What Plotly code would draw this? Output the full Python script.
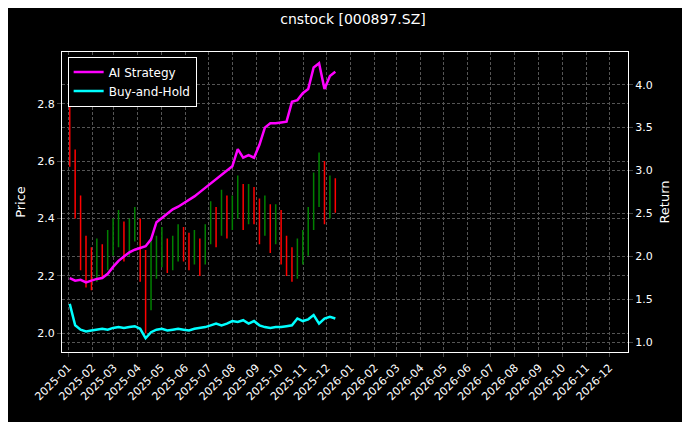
import pandas as pd
import plotly.graph_objects as go

# weekly bars
dates = pd.date_range("2025-01-03", periods=50, freq="7D")
close = [2.62, 2.45, 2.30, 2.22,
         2.20, 2.26, 2.24, 2.30,
         2.33, 2.36, 2.30, 2.34, 2.38,
         2.25, 2.10, 2.22, 2.28,
         2.30, 2.25, 2.28, 2.32, 2.30,
         2.27, 2.30, 2.25, 2.33,
         2.40, 2.35, 2.45, 2.38,
         2.42, 2.50, 2.40, 2.47, 2.45,
         2.38, 2.42, 2.33, 2.40,
         2.30, 2.25, 2.22, 2.28, 2.30,
         2.38, 2.50, 2.58, 2.45,
         2.50, 2.47]
open_ = [2.92] + close[:-1]
high = [2.94, 2.64, 2.48, 2.34,
        2.30, 2.33, 2.31, 2.36,
        2.40, 2.43, 2.39, 2.40, 2.44,
        2.40, 2.29, 2.33, 2.34,
        2.37, 2.33, 2.34, 2.38, 2.37,
        2.35, 2.36, 2.33, 2.38,
        2.46, 2.44, 2.50, 2.48,
        2.48, 2.55, 2.52, 2.52, 2.51,
        2.47, 2.48, 2.45, 2.45,
        2.43, 2.34, 2.30, 2.33, 2.36,
        2.44, 2.56, 2.63, 2.60,
        2.55, 2.54]
low = [2.58, 2.40, 2.22, 2.16,
       2.15, 2.18, 2.19, 2.22,
       2.27, 2.30, 2.25, 2.27, 2.32,
       2.18, 2.00, 2.08, 2.19,
       2.23, 2.21, 2.22, 2.25, 2.25,
       2.22, 2.24, 2.20, 2.24,
       2.31, 2.30, 2.34, 2.33,
       2.36, 2.40, 2.36, 2.38, 2.38,
       2.31, 2.34, 2.28, 2.31,
       2.24, 2.20, 2.18, 2.19, 2.24,
       2.27, 2.36, 2.44, 2.38,
       2.40, 2.42]
strategy = [1.75, 1.72, 1.73, 1.70, 1.72, 1.74, 1.75, 1.80, 1.88, 1.95,
            2.00, 2.05, 2.08, 2.10, 2.12, 2.20, 2.40, 2.45, 2.50, 2.55,
            2.58, 2.62, 2.65, 2.70, 2.75, 2.80, 2.85, 2.90, 2.95, 3.00,
            3.05, 3.25, 3.15, 3.18, 3.15, 3.30, 3.50, 3.55, 3.55, 3.56,
            3.57, 3.80, 3.82, 3.90, 3.95, 4.20, 4.25, 3.95, 4.10, 4.15]
buy_hold = [1.45, 1.20, 1.15, 1.13, 1.14, 1.15, 1.16, 1.15, 1.17, 1.18,
            1.17, 1.18, 1.19, 1.16, 1.05, 1.12, 1.15, 1.16, 1.14, 1.15,
            1.16, 1.15, 1.14, 1.16, 1.17, 1.18, 1.20, 1.22, 1.20, 1.22,
            1.25, 1.24, 1.26, 1.22, 1.25, 1.20, 1.18, 1.17, 1.18, 1.18,
            1.19, 1.20, 1.28, 1.25, 1.27, 1.32, 1.22, 1.28, 1.30, 1.28]

fig = go.Figure()
fig.add_trace(go.Ohlc(x=dates, open=open_, high=high, low=low, close=close,
                      increasing=dict(line=dict(color="green", width=1.5)),
                      decreasing=dict(line=dict(color="red", width=1.5)),
                      tickwidth=0.05, showlegend=False, yaxis="y"))
fig.add_trace(go.Scatter(x=dates, y=strategy, mode="lines", name="AI Strategy",
                         line=dict(color="magenta", width=2.5), yaxis="y2"))
fig.add_trace(go.Scatter(x=dates, y=buy_hold, mode="lines", name="Buy-and-Hold",
                         line=dict(color="cyan", width=2.5), yaxis="y2"))

grid = dict(showgrid=True, gridcolor="#555555", griddash="3px,2px", gridwidth=0.6,
            automargin=False, tickfont=dict(size=11))
fig.update_layout(
    width=690, height=422, paper_bgcolor="black", plot_bgcolor="black",
    font=dict(family="DejaVu Sans", color="white", size=11),
    margin=dict(l=54, r=70, t=44, b=78),
    title=dict(text="cnstock [000897.SZ]", x=0.5, xanchor="center", y=0.985, font=dict(size=14)),
    xaxis=dict(range=["2024-12-24", "2026-12-25"], dtick="M1", tickformat="%Y-%m",
               tickangle=-45, ticks="outside", ticklen=4, rangeslider=dict(visible=False),
               showline=True, linecolor="white", mirror=True, **grid),
    yaxis=dict(title=dict(text="Price", standoff=8), range=[1.935, 2.98], dtick=0.2,
               tickformat=".1f", ticks="outside", ticklen=4, showline=True,
               linecolor="white", zeroline=False, **grid),
    yaxis2=dict(title=dict(text="Return", standoff=8), overlaying="y", side="right",
                range=[0.89, 4.38], dtick=0.5, tickformat=".1f", ticks="outside", ticklen=4,
                showline=True, linecolor="white", zeroline=False, **grid),
    legend=dict(x=0.01, y=0.985, bgcolor="black", bordercolor="white", borderwidth=1,
                font=dict(size=12)),
)
fig.write_html("out.html")
